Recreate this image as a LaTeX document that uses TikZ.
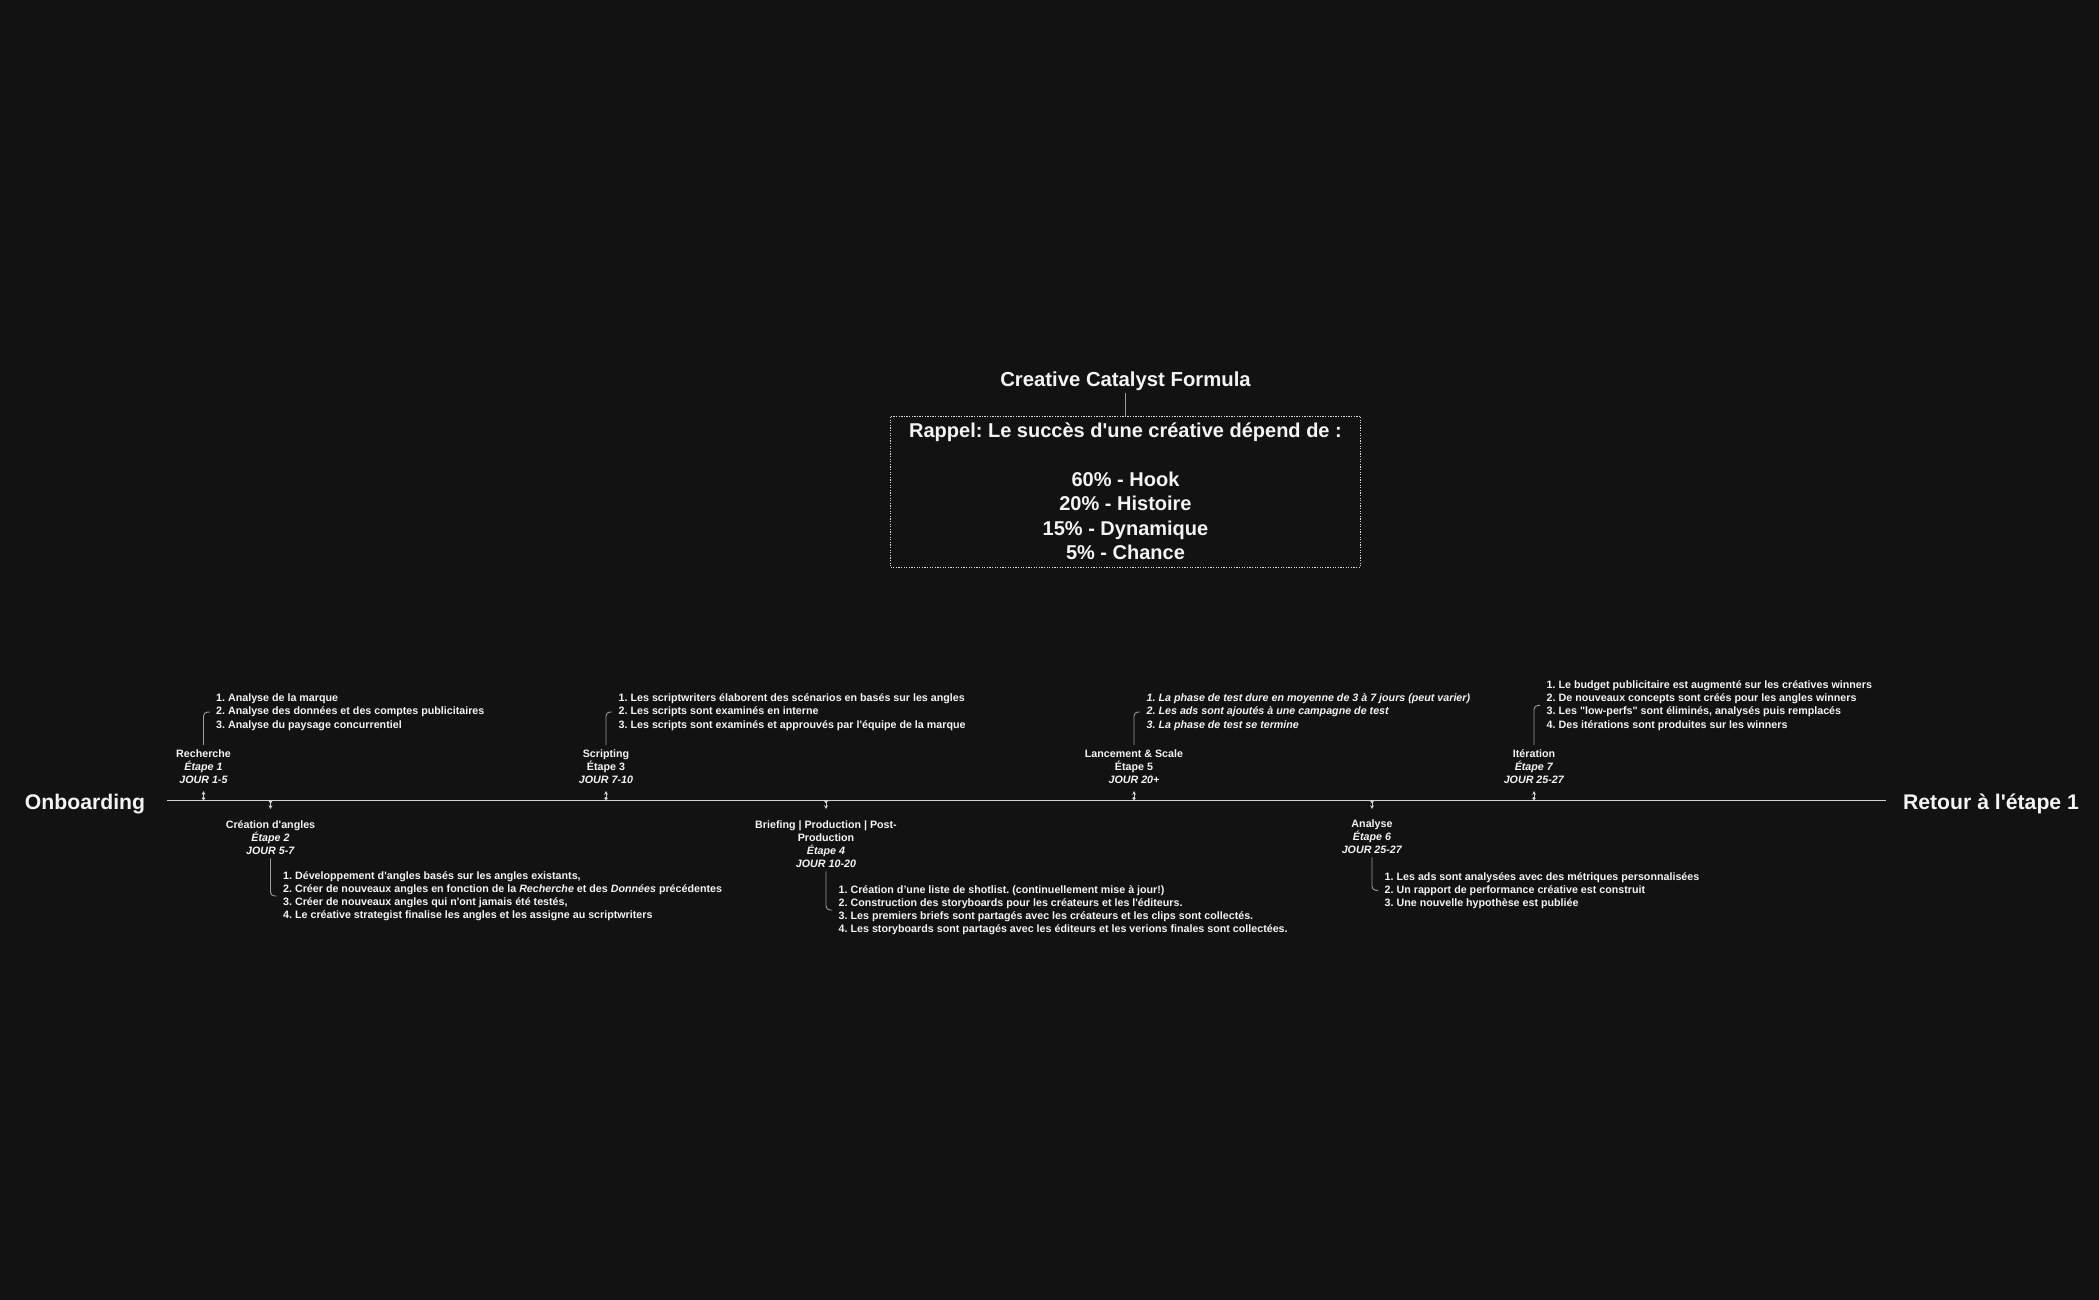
\documentclass[tikz,border=0pt]{standalone}
\usepackage{fontspec}
\newfontfamily\ccfont{Liberation Sans}
\usetikzlibrary{arrows.meta, positioning}

\definecolor{bgdark}{HTML}{121212}
\definecolor{txtwhite}{HTML}{F4F4F4}
\definecolor{linegrey}{HTML}{D2D2D2}
\definecolor{linkgrey}{HTML}{9C9C9C}
\definecolor{boxgrey}{HTML}{DADADA}

\frenchspacing

\begin{document}
\begin{tikzpicture}
    [
        x=1pt, y=-1pt,
        every node/.style = {
            text=txtwhite
        },
        stagelabel/.style = {
            align=center, inner sep=4pt,
            font=\ccfont\bfseries\fontsize{10.7}{13}\selectfont
        },
        stageitems/.style = {
            align=left, inner xsep=6.5pt, inner ysep=2pt,
            font=\ccfont\bfseries\fontsize{10.7}{13.2}\selectfont
        },
        endlabel/.style = {
            inner sep=0pt,
            font=\ccfont\bfseries\fontsize{21.2}{25}\selectfont
        },
        link/.style = {
            draw=linkgrey, line width=0.9pt, rounded corners=4pt
        },
        timeline/.style = {
            draw=linegrey, line width=1pt
        },
        tickmark/.style = {
            draw=linegrey, line width=1pt,
            arrows={Circle[length=3.2pt]-Stealth[length=3.8pt, width=3.8pt]}
        },
    ]
    \useasboundingbox (0,0) rectangle (2099,1300);
    \fill[bgdark] (0,0) rectangle (2099,1300);

    % formula
    \node[anchor=base, inner sep=3pt, font=\ccfont\bfseries\fontsize{20.3}{24}\selectfont]
        (formtitle) at (1125.5,386) {Creative Catalyst Formula};
    \node[draw=boxgrey, dash pattern=on 1.3pt off 1.3pt, line width=1pt, align=center,
          minimum width=470pt, minimum height=151pt, inner sep=0pt,
          font=\ccfont\bfseries\fontsize{20}{24.5}\selectfont]
        (rappel) at (1125.5,491.5)
        {Rappel: Le succès d'une créative dépend de :\\[24.5pt]60\% - Hook\\20\% - Histoire\\15\% - Dynamique\\5\% - Chance};
    \draw[link] (formtitle) -- (rappel);

    % timeline
    \coordinate (tlstart) at (167,800);
    \coordinate (tlend) at (1886,800);
    \node[endlabel, anchor=base] (onboard) at (85,809.5) {Onboarding};
    \node[endlabel, anchor=base] (retour) at (1991,809.5) {Retour à l'étape 1};
    \draw[timeline] (tlstart) -- (tlend);

    \coordinate (t1) at (203.5,800);
    \coordinate (t2) at (270.5,800);
    \coordinate (t3) at (606,800);
    \coordinate (t4) at (826,800);
    \coordinate (t5) at (1134,800);
    \coordinate (t6) at (1372,800);
    \coordinate (t7) at (1534,800);
    \draw[tickmark] (t1) -- ++(0,-9);
    \draw[tickmark] (t2) -- ++(0,9);
    \draw[tickmark] (t3) -- ++(0,-9);
    \draw[tickmark] (t4) -- ++(0,9);
    \draw[tickmark] (t5) -- ++(0,-9);
    \draw[tickmark] (t6) -- ++(0,9);
    \draw[tickmark] (t7) -- ++(0,-9);

    % etape 1
    \node[stagelabel, anchor=base] (rech) at (203.5,783)
        {Recherche\\\textit{Étape 1}\\\textit{JOUR 1-5}};
    \node[stageitems, anchor=base west] (rechitems) at (209.5,728)
        {1. Analyse de la marque\\
         2. Analyse des données et des comptes publicitaires\\
         3. Analyse du paysage concurrentiel};
    \draw[link] (rech.north) |- (rechitems.west);

    % etape 2
    \node[stagelabel, anchor=base] (crea) at (270.5,854)
        {Création d'angles\\\textit{Étape 2}\\\textit{JOUR 5-7}};
    \node[stageitems, anchor=base west] (creaitems) at (276.5,918.6)
        {1. Développement d'angles basés sur les angles existants,\\
         2. Créer de nouveaux angles en fonction de la \textit{Recherche} et des \textit{Données} précédentes\\
         3. Créer de nouveaux angles qui n'ont jamais été testés,\\
         4. Le créative strategist finalise les angles et les assigne au scriptwriters};
    \draw[link] (crea.south) |- (creaitems.west);

    % etape 3
    \node[stagelabel, anchor=base] (scri) at (606,783)
        {Scripting\\Étape 3\\\textit{JOUR 7-10}};
    \node[stageitems, anchor=base west] (scriitems) at (612,728)
        {1. Les scriptwriters élaborent des scénarios en basés sur les angles\\
         2. Les scripts sont examinés en interne\\
         3. Les scripts sont examinés et approuvés par l'équipe de la marque};
    \draw[link] (scri.north) |- (scriitems.west);

    % etape 4
    \node[stagelabel, anchor=base] (brief) at (826,867)
        {Briefing | Production | Post-\\Production\\\textit{Étape 4}\\\textit{JOUR 10-20}};
    \node[stageitems, anchor=base west] (briefitems) at (832,932.6)
        {1. Création d’une liste de shotlist. (continuellement mise à jour!)\\
         2. Construction des storyboards pour les créateurs et les l'éditeurs.\\
         3. Les premiers briefs sont partagés avec les créateurs et les clips sont collectés.\\
         4. Les storyboards sont partagés avec les éditeurs et les verions finales sont collectées.};
    \draw[link] (brief.south) |- (briefitems.west);

    % etape 5
    \node[stagelabel, anchor=base] (lanc) at (1134,783)
        {Lancement \& Scale\\Étape 5\\\textit{JOUR 20+}};
    \node[stageitems, anchor=base west, font=\ccfont\bfseries\itshape\fontsize{10.7}{13.2}\selectfont]
        (lancitems) at (1140,728)
        {1. La phase de test dure en moyenne de 3 à 7 jours (peut varier)\\
         2. Les ads sont ajoutés à une campagne de test\\
         3. La phase de test se termine};
    \draw[link] (lanc.north) |- (lancitems.west);

    % etape 6
    \node[stagelabel, anchor=base] (anal) at (1372,853)
        {Analyse\\\textit{Étape 6}\\\textit{JOUR 25-27}};
    \node[stageitems, anchor=base west] (analitems) at (1378,906.4)
        {1. Les ads sont analysées avec des métriques personnalisées\\
         2. Un rapport de performance créative est construit\\
         3. Une nouvelle hypothèse est publiée};
    \draw[link] (anal.south) |- (analitems.west);

    % etape 7
    \node[stagelabel, anchor=base] (iter) at (1534,783)
        {Itération\\\textit{Étape 7}\\\textit{JOUR 25-27}};
    \node[stageitems, anchor=base west] (iteritems) at (1540,728)
        {1. Le budget publicitaire est augmenté sur les créatives winners\\
         2. De nouveaux concepts sont créés pour les angles winners\\
         3. Les "low-perfs" sont éliminés, analysés puis remplacés\\
         4. Des itérations sont produites sur les winners};
    \draw[link] (iter.north) |- (iteritems.west);
\end{tikzpicture}
\end{document}
